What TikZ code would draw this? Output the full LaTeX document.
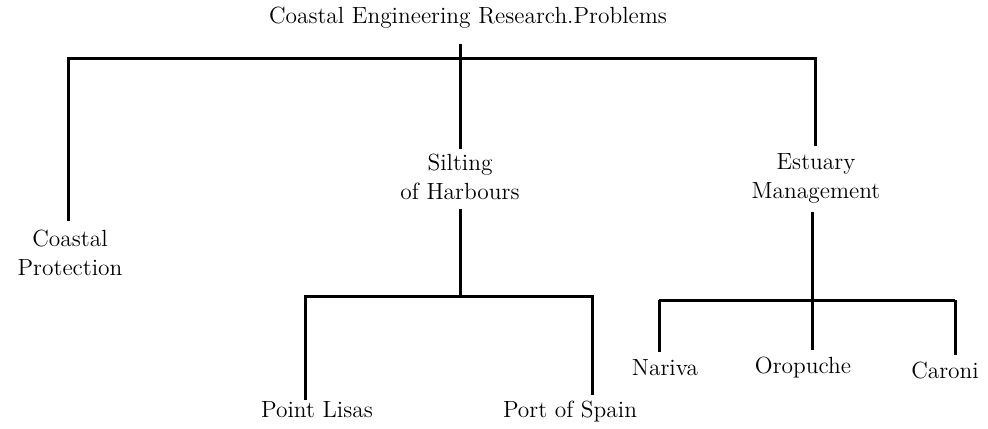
\documentclass[tikz,border=0pt]{standalone}
\begin{document}
\begin{tikzpicture}[x=0.5pt,y=-0.5pt,line width=1.5pt,
    lbl/.style={align=center,inner sep=0pt,font=\fontsize{11.7}{14.5}\selectfont}]
    \useasboundingbox (0,0) rectangle (988,428);
    \node[lbl] (title) at (468,18) {Coastal Engineering Research.Problems};
    \node[lbl] (prot) at (70,253) {Coastal\\Protection};
    \node[lbl] (silt) at (460,177) {Silting\\of Harbours};
    \node[lbl] (estu) at (816,178) {Estuary\\Management};
    \node[lbl] (lisas) at (317,410) {Point Lisas};
    \node[lbl] (spain) at (570,412) {Port of Spain};
    \node[lbl] (nariva) at (665,368) {Nariva};
    \node[lbl] (oro) at (803,368) {Oropuche};
    \node[lbl] (caroni) at (945,371) {Caroni};
    % bars
    \coordinate (bar) at (0,58);
    \coordinate (sL) at (305,296);
    \coordinate (sR) at (592,296);
    \coordinate (eL) at (659,300);
    \coordinate (eM) at (812,300);
    \coordinate (eR) at (955,300);
    \draw ([xshift=-4pt,yshift=-7pt]title.south) -- ([yshift=2pt]silt.north);
    \draw ([xshift=-1pt,yshift=4pt]prot.north) -- ([xshift=-1pt]prot.north |- bar)
        -- ([xshift=-0.5pt]estu.north |- bar) -- ([xshift=-0.5pt,yshift=3pt]estu.north);
    \draw ([yshift=-4pt]silt.south) -- (silt.south |- sL);
    \draw[shorten >=2.5pt] (sL |- lisas.north) -- (sL) -- (sR) -- (sR |- spain.north);
    \draw[shorten <=2.5pt] (sL |- lisas.north) -- (sL);
    \draw ([yshift=-4pt]estu.south -| eM) -- (eM);
    \draw[shorten >=3pt] (eL) -- (eL |- nariva.north);
    \draw[shorten >=3pt] (eM) -- (eM |- oro.north);
    \draw[shorten >=3pt] (eR) -- (eR |- caroni.north);
    \draw (eL) -- (eR);
\end{tikzpicture}
\end{document}
